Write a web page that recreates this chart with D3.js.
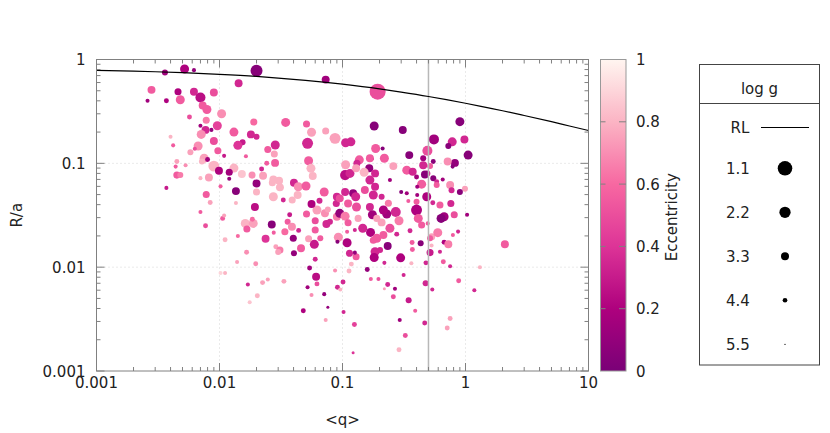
<!DOCTYPE html>
<html>
<head>
<meta charset="utf-8">
<script src="https://cdn.jsdelivr.net/npm/d3@7"></script>
<style>
  body { margin: 0; background: #fff; }
  text { font-family: "DejaVu Sans", sans-serif; font-size: 15px; fill: #222; }
</style>
</head>
<body>
<svg id="chart" width="830" height="433"></svg>
<script>
// mass ratio <q>, R/a, eccentricity, log g  (one entry per star)
const qVals = [
  .0036,.0052,.0062,.020,.0143,.0028,.0046,.0062,.0070,.0090,.0026,.0037,.0048,.0073,.0079,.0104,.0057,.0078,.0070,.0096,
  .019,.0077,.0086,.0071,.0040,.0131,.018,.0154,.020,.0090,.0067,.0141,.0042,.0063,.0097,.0058,.0109,.0164,.0075,.0080,
  .0045,.0072,.0090,.0099,.0131,.0120,.0044,.0053,.0045,.0048,.0070,.0082,.0120,.0152,.0184,.020,.0037,.0102,.0136,.020,
  .0078,.0084,.0136,.0194,.0070,.0077,.0106,.0109,.0111,.0141,.0166,.0139,.0197,.0102,.0111,.0170,.0224,.0247,.0334,.0203,
  .0176,.0266,.0162,.0188,.0167,.0185,.0237,.0276,.0287,.031,.030,.034,.0358,.0388,.0372,.044,.0398,.0403,.046,.051,
  .053,.059,.066,.060,.054,.061,.062,.052,.056,.048,.071,.076,.073,.087,.091,.062,.072,.074,.060,.056,
  .076,.090,.095,.105,.089,.130,.167,.175,.146,.169,.109,.0925,.091,.129,.126,.118,.113,.159,.184,.181,
  .170,.196,.101,.096,.102,.125,.122,.229,.271,.288,.208,.243,.19,.215,.276,.109,.233,.219,.297,.354,
  .432,.368,.37,.363,.477,.515,.493,.531,.53,.595,.67,.725,.62,.67,.81,.79,.87,1.03,.66,.75,
  1.31,2.09,.219,.233,.267,.259,.314,.345,.39,.474,.537,.88,.75,.71,1.18,.292,.466,.324,.288,.073,
  .193,.181,.0345,.051,.056,.073,.087,.106,.117,.0284,.0247,.0279,.052,.053,.022,.0242,.0283,.0226,.0269,.0305,
  .031,.0274,.033,.0403,.0437,.0505,.0432,.039,.0554,.0573,.065,.071,.090,.105,.115,.106,.137,.131,.165,.150,
  .175,.186,.167,.152,.184,.105,.122,.128,.095,.178,.111,.129,.184,.167,.0274,.079,.060,.111,.126,.134,
  .178,.114,.349,.453,.547,1.05,.82,.716,.786,.219,.259,.333,.372,.453,.40,.49,.547,.583,.653,.44,
  .75,.99,.90,.77,.243,.30,.333,.405,.484,.40,.542,.62,.76,.633,.40,.413,.44,.515,.202,.215,
  .19,.90,.309,.554,.78,.98,.725,.49,.468,.515,.583,.405,.343,.236,.208,.212
];
const raVals = [
  .75,.81,.79,.78,.59,.51,.49,.49,.43,.48,.40,.40,.41,.36,.33,.30,.28,.26,.23,.23,
  .25,.21,.21,.19,.18,.20,.19,.16,.18,.164,.147,.149,.149,.138,.132,.128,.118,.117,.112,.109,
  .104,.104,.094,.085,.090,.082,.093,.096,.077,.077,.072,.073,.071,.079,.077,.064,.058,.060,.054,.053,
  .050,.042,.0415,.038,.034,.025,.0295,.0315,.0184,.020,.0139,.0112,.0108,.0088,.0088,.0068,.0071,.0076,.0073,.0053,
  .0046,.0258,.0264,.0264,.0233,.029,.0188,.0215,.0157,.0146,.014,.0219,.0274,.0245,.032,.0226,.019,.0136,.0152,.0325,
  .0188,.0166,.019,.0119,.0098,.0081,.0069,.0064,.0054,.0038,.0055,.0041,.0031,.0093,.0064,.0355,.033,.026,.028,.0406,
  .036,.0306,.033,.031,.041,.038,.038,.032,.0237,.0216,.0172,.0194,.0176,.0126,.0138,.0107,.0092,.0095,.0141,.0124,
  .0077,.0077,.0072,.0061,.0037,.0028,.0015,.0325,.034,.028,.027,.0237,.019,.0204,.0208,.0219,.016,.011,.0123,.0224,
  .017,.0173,.0148,.0109,.011,.0138,.0264,.0196,.0162,.0215,.0174,.0166,.0141,.0306,.032,.0204,.022,.032,.0113,.0102,
  .0100,.0166,.0062,.0068,.0062,.0052,.0084,.0048,.0038,.0070,.0061,.0074,.0032,.0026,.0060,.0031,.0029,.0022,.0016,.64,
  .49,.229,.248,.239,.199,.205,.174,.158,.161,.150,.136,.123,.156,.106,.088,.100,.101,.076,.065,.068,
  .0587,.0477,.0443,.065,.0595,.0605,.0495,.0443,.0895,.0754,.0436,.053,.0477,.077,.080,.097,.108,.100,.0895,.082,
  .111,.139,.069,.0553,.0595,.053,.0514,.0477,.046,.0495,.041,.0895,.080,.112,.070,.0274,.0228,.0268,.0228,.0295,
  .0182,.0136,.120,.112,.104,.120,.101,.104,.093,.112,.094,.086,.083,.096,.074,.080,.072,.0665,.070,.063,
  .062,.057,.053,.055,.069,.053,.0514,.0495,.0477,.0427,.0417,.0397,.041,.0295,.0355,.0295,.0255,.019,.0146,.0355,
  .0295,.252,.209,.170,.161,.170,.147,.132,.078,.094,.062,.0595,.0433,.0412,.0477,.139
];
const eccVals = [
  .15,.2,.1,.05,.35,.55,.2,.35,.25,.5,.15,.2,.55,.55,.55,.7,.5,.65,.15,.45,
  .6,.35,.1,.7,.8,.55,.35,.3,.35,.5,.7,.4,.55,.5,.55,.75,.3,.55,.75,.15,
  .75,.8,.8,.2,.8,.15,.55,.7,.55,.65,.8,.75,.1,.85,.7,.1,.3,.55,.05,.8,
  .55,.75,.8,.25,.55,.5,.55,.75,.8,.6,.7,.75,.7,.9,.8,.35,.75,.75,.75,.8,
  .85,.05,.8,.75,.55,.6,.4,.55,.75,.65,.75,.6,.55,.7,.3,.35,.1,.1,.55,.55,
  .75,.3,.55,.35,.15,.25,.5,.15,.7,.2,.1,.1,.75,.7,.35,.75,.7,.35,.5,.2,
  .75,.65,.1,.65,.35,.5,.35,.15,.35,.2,.2,.7,.05,.55,.1,.8,.8,.1,.35,.2,
  .55,.5,.35,.8,.35,.45,.4,.15,.35,.65,.75,.5,.55,.55,.35,.55,.05,.35,.2,.35,
  .05,.55,.55,.8,.35,.3,.55,.75,.8,.65,.2,.65,.35,.15,.5,.55,.35,.15,.55,.35,
  .8,.55,.75,.35,.15,.5,.35,.3,.55,.35,.35,.55,.75,.75,.35,.15,.35,.5,.8,.15,
  .5,.05,.55,.55,.75,.75,.75,.35,.35,.35,.55,.75,.35,.55,.35,.55,.55,.75,.8,.8,
  .8,.8,.35,.35,.7,.55,.8,.8,.8,.8,.35,.55,.35,.25,.35,.75,.55,.35,.1,.8,
  .1,.55,.35,.5,.35,.35,.1,.35,.5,.35,.55,.75,.35,.55,.8,.35,.55,.55,.35,.75,
  .55,.35,.05,.15,.05,.05,.1,.7,.05,.55,.75,.55,.35,.35,.15,.35,.05,.35,.15,.55,
  .7,.75,.05,.35,.15,.05,.15,.15,.2,.55,.35,.55,.35,.05,.2,.55,.55,.55,.35,.2,
  .75,.05,.05,.15,.35,.35,.05,.5,.05,.55,.55,.15,.55,.65,.35,.05
];
const loggVals = [
  3.95,2.95,4.6,1.95,3.3,3.3,3.6,3.3,2.6,3.3,4.6,4.3,2.95,3.3,2.95,2.95,4.3,3.6,4.6,2.95,
  3.6,3.3,4.6,2.95,4.6,2.95,3.3,3.95,3.95,3.3,2.95,2.95,4.6,4.6,3.6,3.95,4.6,4.6,2.95,4.3,
  4.3,3.95,2.3,3.3,2.95,3.6,4.6,4.6,3.6,3.95,4.6,3.3,4.6,3.3,3.6,3.3,4.6,4.6,3.3,3.6,
  3.6,4.3,4.6,3.3,4.6,4.3,4.3,4.6,4.3,4.6,4.3,4.6,4.3,4.6,4.6,4.6,4.3,4.6,4.3,4.3,
  4.6,3.3,2.95,2.95,3.6,4.3,3.3,4.6,4.3,3.6,3.95,3.6,3.95,3.3,4.3,4.3,3.6,3.95,3.3,3.6,
  3.6,2.95,3.95,4.3,4.3,3.3,4.3,4.6,4.6,4.3,4.6,4.95,4.6,4.6,4.3,2.95,3.3,3.3,3.6,3.3,
  3.95,3.3,2.95,2.95,3.6,2.95,3.3,2.95,2.95,2.95,2.95,2.95,4.6,3.6,4.6,4.3,4.3,4.3,2.95,2.95,
  4.6,4.6,4.3,4.6,4.6,4.3,4.95,2.95,2.6,2.95,3.3,2.95,2.95,3.3,4.3,4.6,3.3,4.6,2.95,4.3,
  3.95,4.3,4.3,4.6,4.3,3.6,4.6,3.6,4.6,2.95,4.3,3.3,4.6,2.95,3.6,4.6,4.6,4.6,4.3,4.6,
  4.6,3.3,4.95,4.3,4.6,4.3,4.6,3.95,4.6,3.95,4.6,4.3,4.3,4.3,4.6,4.6,4.3,4.3,4.3,3.3,
  0.6,2.95,2.95,3.6,2.95,3.6,2.3,2.95,2.95,2.95,3.6,3.6,2.3,2.95,4.3,4.3,3.3,3.3,3.6,3.3,
  3.3,2.95,4.3,3.3,2.95,2.95,3.3,3.6,2.95,3.3,3.95,2.95,3.3,2.6,2.95,2.95,2.95,3.6,3.3,2.95,
  4.95,2.95,2.95,3.3,3.3,3.3,3.3,2.95,3.3,2.95,3.3,3.3,3.3,3.3,3.3,3.95,3.6,3.6,4.6,3.6,
  3.6,3.6,3.3,3.95,4.3,2.95,3.3,3.3,4.6,2.95,3.3,2.95,3.3,3.3,4.3,3.95,3.95,4.3,4.6,2.95,
  3.3,3.95,3.95,3.95,4.6,4.6,4.6,4.6,2.95,3.95,4.3,3.6,3.6,2.95,2.3,2.95,3.6,3.95,3.95,2.95,
  3.6,2.95,3.3,2.6,2.95,3.3,3.95,2.6,3.3,3.95,3.95,4.6,4.6,3.6,3.95,4.6
];

// Roche-lobe radius curve, sampled
const rlQ = [0.001, 0.002, 0.003, 0.005, 0.01, 0.02, 0.03, 0.05, 0.1, 0.2, 0.3, 0.5, 0.7, 1, 1.5, 2, 3, 5, 7, 10];
const rlR = [0.785, 0.772, 0.762, 0.747, 0.720, 0.687, 0.663, 0.630, 0.578, 0.521, 0.485, 0.440, 0.410, 0.379, 0.344, 0.321, 0.289, 0.252, 0.229, 0.207];

const qMark = 0.5;
const legendLogg = [1.1, 2.2, 3.3, 4.4, 5.5];
const eccTicks = [0, 0.2, 0.4, 0.6, 0.8, 1];
const eccColors = ["#7a0177", "#ae017e", "#dd3497", "#f768a1", "#fbb4c4", "#fff5f0"];

const margin = { top: 59.5, left: 96.5 };
const width = 492;
const height = 311.5;
const plotL = margin.left, plotR = margin.left + width;
const plotT = margin.top, plotB = margin.top + height;

const svg = d3.select("#chart");

const x = d3.scaleLog().domain([0.001, 10]).range([plotL, plotR]);
const y = d3.scaleLog().domain([0.001, 1]).range([plotB, plotT]);
const color = d3.scaleLinear().domain(eccTicks).range(eccColors);
const radius = g => 1.5 * (5.95 - g);
const isMajor = t => Math.abs(Math.log10(t) - Math.round(Math.log10(t))) < 1e-6;
const fmt = t => (t >= 1 ? d3.format("d")(t) : String(+t.toPrecision(1)));

// grid
const grid = svg.append("g")
  .attr("stroke", "#d4d4d4")
  .attr("stroke-dasharray", "1,3");
x.ticks().filter(isMajor).slice(1, -1).forEach(t => {
  grid.append("line").attr("x1", x(t)).attr("x2", x(t)).attr("y1", plotT).attr("y2", plotB);
});
y.ticks().filter(isMajor).slice(1, -1).forEach(t => {
  grid.append("line").attr("x1", plotL).attr("x2", plotR).attr("y1", y(t)).attr("y2", y(t));
});

// points
const pts = qVals.map((q, i) => ({ q: q, ra: raVals[i], e: eccVals[i], g: loggVals[i] }));
svg.append("g").selectAll("circle")
  .data(pts)
  .enter()
  .append("circle")
  .attr("cx", d => x(d.q))
  .attr("cy", d => y(d.ra))
  .attr("r", d => radius(d.g))
  .attr("fill", d => color(d.e));

// q = 0.5 marker
svg.append("line")
  .attr("x1", x(qMark)).attr("x2", x(qMark))
  .attr("y1", plotT).attr("y2", plotB)
  .attr("stroke", "#b8b8b8")
  .attr("stroke-width", 1.5);

// Roche lobe
svg.append("path")
  .datum(rlQ.map((q, i) => [q, rlR[i]]))
  .attr("fill", "none")
  .attr("stroke", "#000")
  .attr("stroke-width", 1.2)
  .attr("d", d3.line().x(d => x(d[0])).y(d => y(d[1])).curve(d3.curveMonotoneX));

// frame and ticks
const axis = svg.append("g").attr("stroke", "#808080").attr("stroke-width", 1);
axis.append("rect")
  .attr("x", plotL).attr("y", plotT).attr("width", width).attr("height", height)
  .attr("fill", "none");
x.ticks().forEach(t => {
  const len = isMajor(t) ? 8 : 4;
  axis.append("line").attr("x1", x(t)).attr("x2", x(t)).attr("y1", plotB).attr("y2", plotB - len);
  axis.append("line").attr("x1", x(t)).attr("x2", x(t)).attr("y1", plotT).attr("y2", plotT + len);
});
y.ticks().forEach(t => {
  const len = isMajor(t) ? 8 : 4;
  axis.append("line").attr("x1", plotL).attr("x2", plotL + len).attr("y1", y(t)).attr("y2", y(t));
  axis.append("line").attr("x1", plotR).attr("x2", plotR - len).attr("y1", y(t)).attr("y2", y(t));
});

// tick labels
x.ticks().filter(isMajor).forEach(t => {
  svg.append("text").attr("x", x(t)).attr("y", plotB + 17)
    .attr("text-anchor", "middle").text(fmt(t));
});
y.ticks().filter(isMajor).forEach(t => {
  svg.append("text").attr("x", plotL - 11).attr("y", y(t) + 5.5)
    .attr("text-anchor", "end").text(fmt(t));
});

svg.append("text")
  .attr("transform", `translate(17,${(plotT + plotB) / 2}) rotate(-90)`)
  .attr("text-anchor", "middle")
  .attr("dy", "0.35em")
  .text("R/a");
svg.append("text")
  .attr("x", (plotL + plotR) / 2).attr("y", 425)
  .attr("text-anchor", "middle")
  .text("<q>");

// colour bar
const cbX = 600.5, cbW = 25.5;
const cy = d3.scaleLinear().domain([0, 1]).range([plotB, plotT]);
const grad = svg.append("defs").append("linearGradient")
  .attr("id", "eccGrad")
  .attr("x1", 0).attr("x2", 0).attr("y1", 1).attr("y2", 0);
d3.range(0, 1.0001, 0.05).forEach(v => {
  grad.append("stop").attr("offset", v).attr("stop-color", color(v));
});
svg.append("rect")
  .attr("x", cbX).attr("y", plotT).attr("width", cbW).attr("height", height)
  .attr("fill", "url(#eccGrad)")
  .attr("stroke", "#999");
eccTicks.forEach(v => {
  if (v > 0 && v < 1) {
    svg.append("line").attr("x1", cbX).attr("x2", cbX + 5).attr("y1", cy(v)).attr("y2", cy(v))
      .attr("stroke", "#808080");
    svg.append("line").attr("x1", cbX + cbW - 7).attr("x2", cbX + cbW).attr("y1", cy(v)).attr("y2", cy(v))
      .attr("stroke", "#808080");
  }
  svg.append("text").attr("x", 636).attr("y", cy(v) + 5.5).text(v === 0 || v === 1 ? d3.format("d")(v) : v.toFixed(1));
});
svg.append("text")
  .attr("transform", `translate(672,${(plotT + plotB) / 2 + 2}) rotate(-90)`)
  .attr("text-anchor", "middle")
  .attr("dy", "0.35em")
  .text("Eccentricity");

// size legend
const lg = svg.append("g");
lg.append("rect")
  .attr("x", 699.5).attr("y", 64.5).attr("width", 120).attr("height", 300.5)
  .attr("fill", "none").attr("stroke", "#444");
lg.append("line").attr("x1", 699.5).attr("x2", 819.5).attr("y1", 103.5).attr("y2", 103.5)
  .attr("stroke", "#444");
lg.append("text").attr("x", 759.5).attr("y", 94).attr("text-anchor", "middle").text("log g");
lg.append("text").attr("x", 740).attr("y", 132.5).attr("text-anchor", "middle").text("RL");
lg.append("line").attr("x1", 761).attr("x2", 809).attr("y1", 127.5).attr("y2", 127.5)
  .attr("stroke", "#000").attr("stroke-width", 1.2);
legendLogg.forEach((g, i) => {
  const ly = 168.3 + i * 44;
  lg.append("text").attr("x", 738).attr("y", ly + 5.5).attr("text-anchor", "middle").text(g.toFixed(1));
  lg.append("circle").attr("cx", 785).attr("cy", ly).attr("r", radius(g)).attr("fill", "#000");
});
</script>
</body>
</html>
